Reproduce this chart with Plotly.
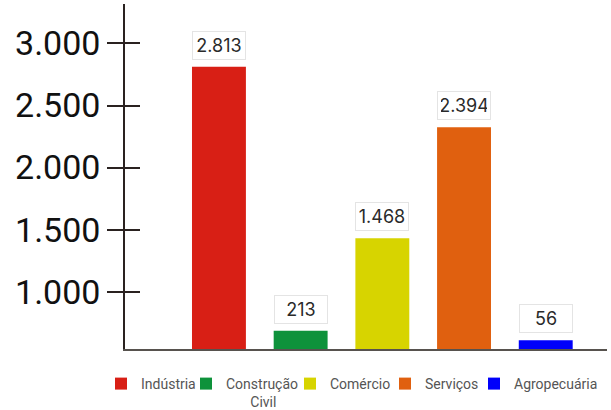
import plotly.graph_objects as go

categories = ["Indústria", "Construção<br>       Civil", "Comércio", "Serviços", "Agropecuária"]
bar_values = [2813, 686, 1430, 2325, 608]
label_values = [2813, 213, 1468, 2394, 56]
colors = ["#d81f15", "#0e923b", "#d7d400", "#e0600f", "#0000fb"]
y_ticks = [1000, 1500, 2000, 2500, 3000]
legend_left_px = [101, 186, 290, 385, 474]

FONT = "Inter"
TICK_FONT = "Roboto"
PLOT_L, PLOT_R, PLOT_T, PLOT_B = 125, 607, 4, 349
W, H = 611, 410

def fmt(v):
    return f"{v:,}".replace(",", ".")

fig = go.Figure()
legend_layout = {}
for i, (c, v, col) in enumerate(zip(categories, bar_values, colors)):
    lname = "legend" if i == 0 else f"legend{i + 1}"
    fig.add_trace(go.Bar(
        x=[i], y=[v], name=c, marker=dict(color=col, line=dict(width=0)),
        width=0.66, hoverinfo="skip", showlegend=True, legend=lname,
    ))
    fig.add_annotation(
        x=i, y=v, xref="x", yref="y", text=fmt(label_values[i]),
        showarrow=False, yanchor="bottom", yshift=7,
        font=dict(family=FONT, size=18, color="#2a2a2a"),
        bgcolor="white", bordercolor="#e4e4e4", borderwidth=1, borderpad=3,
        width=46, height=21, align="center", valign="middle",
    )
    legend_layout[lname] = dict(
        orientation="h",
        x=(legend_left_px[i] - PLOT_L) / (PLOT_R - PLOT_L), xanchor="left",
        y=-(368 - PLOT_B) / (PLOT_B - PLOT_T), yanchor="top",
        valign="top", bgcolor="rgba(0,0,0,0)",
        font=dict(family=TICK_FONT, size=14, color="#555555"),
        itemclick=False,
    )

fig.add_trace(go.Scatter(x=[0], y=[y_ticks[0]], yaxis="y2", mode="markers",
                         marker=dict(opacity=0), showlegend=False, hoverinfo="skip"))

yrange = [538, 3318]
fig.update_layout(
    width=W, height=H,
    margin=dict(l=PLOT_L, r=W - PLOT_R, t=PLOT_T, b=H - PLOT_B, autoexpand=False),
    paper_bgcolor="white", plot_bgcolor="white",
    separators=",.",
    barmode="overlay",
    xaxis=dict(range=[-1.15, 4.75], showgrid=False, zeroline=False,
               showticklabels=False, ticks="", showline=True, automargin=False,
               linecolor="#57524e", linewidth=1.5),
    yaxis=dict(range=yrange, tickvals=y_ticks, separatethousands=True,
               showgrid=False, zeroline=False, showline=True, automargin=False,
               linecolor="#2a2220", linewidth=1.5,
               ticks="outside", ticklen=16, tickwidth=1.5, tickcolor="#2a2220",
               tickfont=dict(family=TICK_FONT, size=34, color="#111111")),
    yaxis2=dict(range=yrange, tickvals=y_ticks, overlaying="y", side="left",
                showgrid=False, zeroline=False, showline=False, automargin=False,
                showticklabels=False, ticks="inside", ticklen=15,
                tickwidth=1.5, tickcolor="#2a2220"),
    showlegend=True,
    **legend_layout,
)

fig.write_html("out.html", config={"displayModeBar": False},
               post_script="document.body.style.margin='0';document.body.style.overflow='hidden';")
